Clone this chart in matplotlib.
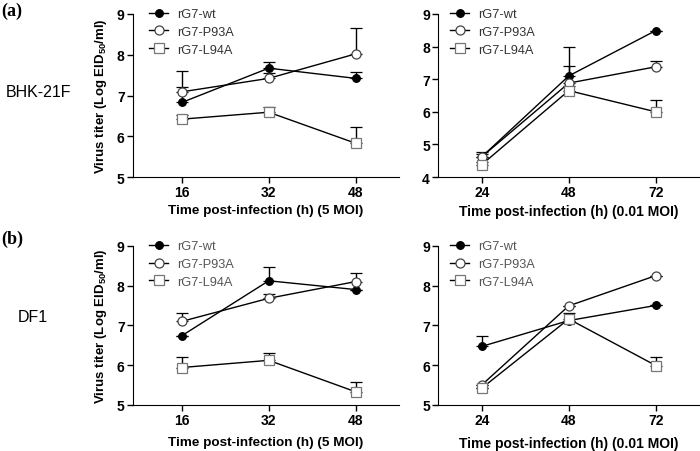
import matplotlib
matplotlib.use("Agg")
import matplotlib.pyplot as plt
from matplotlib.lines import Line2D

plt.rcParams['font.family'] = ['Liberation Sans', 'DejaVu Sans']
plt.rcParams['mathtext.default'] = 'regular'

series = ['rG7-wt', 'rG7-P93A', 'rG7-L94A']

# (a) BHK-21F, 5 MOI
t_5moi = [16, 32, 48]
bhk_5_mean = [[6.83, 7.67, 7.42], [7.09, 7.42, 8.02], [6.42, 6.59, 5.83]]
bhk_5_err = [[0.77, 0.14, 0.15], [0.13, 0.13, 0.64], [0.11, 0.14, 0.40]]

# (a) BHK-21F, 0.01 MOI
t_001moi = [24, 48, 72]
bhk_001_mean = [[4.62, 7.10, 8.49], [4.62, 6.88, 7.38], [4.38, 6.65, 6.00]]
bhk_001_err = [[0.15, 0.90, 0.0], [0.10, 0.52, 0.17], [0.08, 0.15, 0.36]]

# (b) DF1, 5 MOI
df1_5_mean = [[6.74, 8.12, 7.90], [7.10, 7.68, 8.10], [5.94, 6.12, 5.33]]
df1_5_err = [[0.0, 0.34, 0.0], [0.21, 0.11, 0.21], [0.27, 0.19, 0.25]]

# (b) DF1, 0.01 MOI
df1_001_mean = [[6.47, 7.12, 7.50], [5.50, 7.49, 8.25], [5.42, 7.16, 5.99]]
df1_001_err = [[0.27, 0.0, 0.0], [0.0, 0.0, 0.0], [0.0, 0.14, 0.22]]

markers = ['o', 'o', 's']
sizes = [5.5, 6.5, 6.5]
faces = ['black', 'white', 'white']
edges = ['black', '#444444', '#777777']

fig = plt.figure(figsize=(7, 4.52), dpi=100)

def panel(rect, t, means, errs, xlim, ylim, xlabel, xsize, xpad, legx, legcol, ylabel=None):
    ax = fig.add_axes(rect)
    for i, name in enumerate(series):
        ax.errorbar(t, means[i], yerr=[[0] * len(t), errs[i]], color='black',
                    lw=1.0, elinewidth=1.0, capsize=4, capthick=1.0,
                    marker=markers[i], mfc=faces[i], mec=edges[i], ms=sizes[i],
                    mew=0.9)
    ax.set_xlim(xlim)
    ax.set_ylim(ylim)
    ax.set_xticks(t)
    ax.set_yticks(range(ylim[0], ylim[1] + 1))
    ax.spines['top'].set_visible(False)
    ax.spines['right'].set_visible(False)
    ax.tick_params(direction='out', length=4, width=1, labelsize=10, pad=2)
    for lab in ax.get_xticklabels() + ax.get_yticklabels():
        lab.set_fontweight('bold')
    ax.set_xlabel(xlabel, fontsize=xsize, fontweight='bold', labelpad=xpad)
    if ylabel:
        ax.set_ylabel(ylabel, fontsize=9.5, fontweight='bold', labelpad=6)
    handles = [Line2D([], [], color='black', lw=1.0, marker=markers[i],
                      mfc=faces[i], mec=edges[i], ms=sizes[i], mew=0.9)
               for i in range(len(series))]
    leg = ax.legend(handles, series, loc='upper left', frameon=False, fontsize=9.2,
                    handlelength=1.5, handletextpad=0.7, labelspacing=0.45,
                    borderaxespad=0.0, borderpad=0.0, bbox_to_anchor=(legx, 1.035))
    for txt in leg.get_texts():
        txt.set_color(legcol)
    return ax

ylab = 'Virus titer (Log EID$_{50}$/ml)'
panel([0.19, 0.606, 0.38, 0.361], t_5moi, bhk_5_mean, bhk_5_err, (7, 56), (5, 9),
      'Time post-infection (h) (5 MOI)', 9.7, 3, 0.06, '#333333', ylab)
panel([0.626, 0.606, 0.373, 0.361], t_001moi, bhk_001_mean, bhk_001_err, (12, 84), (4, 9),
      'Time post-infection (h) (0.01 MOI)', 10, 3, 0.045, '#333333')
panel([0.19, 0.102, 0.38, 0.352], t_5moi, df1_5_mean, df1_5_err, (7, 56), (5, 9),
      'Time post-infection (h) (5 MOI)', 9.7, 6, 0.06, '#555555', ylab)
panel([0.626, 0.102, 0.373, 0.352], t_001moi, df1_001_mean, df1_001_err, (12, 84), (5, 9),
      'Time post-infection (h) (0.01 MOI)', 10, 6, 0.045, '#555555')

fig.text(0.002, 0.995, '(a)', fontsize=13, fontweight='bold', family='Liberation Serif', va='top')
fig.text(0.002, 0.49, '(b)', fontsize=13, fontweight='bold', family='Liberation Serif', va='top')
fig.text(0.008, 0.795, 'BHK-21F', fontsize=11.5, va='center')
fig.text(0.026, 0.297, 'DF1', fontsize=11.5, va='center')

fig.savefig('out.png', dpi=100)
